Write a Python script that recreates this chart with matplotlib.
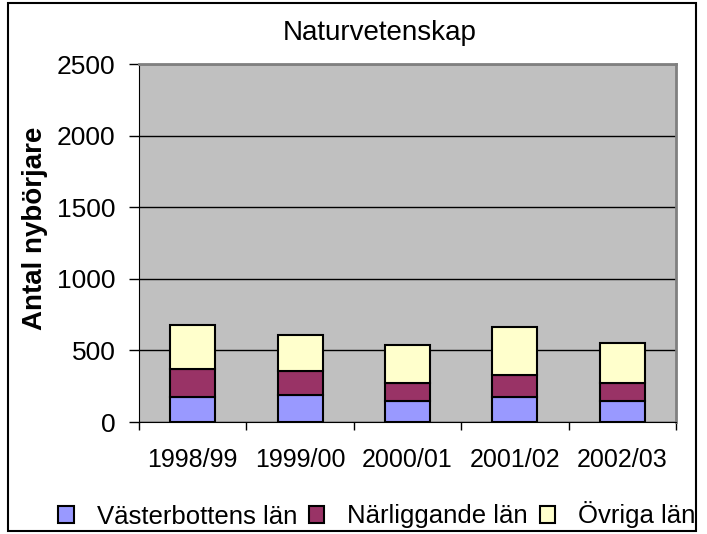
import numpy as np
import matplotlib.pyplot as plt
from matplotlib.patches import Rectangle

years = ['1998/99', '1999/00', '2000/01', '2001/02', '2002/03']
vasterbotten = [174, 188, 148, 174, 148]
narliggande = [194, 171, 125, 155, 125]
ovriga = [310, 250, 267, 336, 278]

plt.rcParams['font.family'] = ['Liberation Sans', 'DejaVu Sans']

fig = plt.figure(figsize=(7.07, 5.34), dpi=100)
ax = fig.add_axes([139 / 707, 1 - 422 / 534, (676 - 139) / 707, (422 - 64) / 534])

x = np.arange(len(years))
w = 0.42
b1 = np.array(vasterbotten)
b2 = b1 + np.array(narliggande)
ax.bar(x, vasterbotten, w, color='#9999FF', edgecolor='black', linewidth=1.5,
       label='Västerbottens län', zorder=3)
ax.bar(x, narliggande, w, bottom=b1, color='#993366', edgecolor='black', linewidth=1.5,
       label='Närliggande län', zorder=3)
ax.bar(x, ovriga, w, bottom=b2, color='#FFFFCC', edgecolor='black', linewidth=1.5,
       label='Övriga län', zorder=3)

ax.set_facecolor('#C0C0C0')
ax.set_xlim(-0.5, len(years) - 0.5)
ax.set_ylim(0, 2500)
ax.set_yticks(range(0, 2501, 500))
ax.yaxis.grid(True, color='black', linewidth=1)
ax.set_axisbelow(True)

# category ticks at boundaries, labels in the middle
ax.set_xticks(np.arange(-0.5, len(years)), minor=False)
ax.set_xticklabels([])
ax.set_xticks(x, minor=True)
ax.set_xticklabels(years, minor=True, fontsize=18)
ax.tick_params(axis='x', which='minor', length=0, pad=19)
ax.tick_params(axis='x', which='major', length=6, width=1, direction='out')
ax.tick_params(axis='y', labelsize=19, length=7, width=1, pad=10)

for s in ['top', 'right']:
    ax.spines[s].set_color('#808080')
    ax.spines[s].set_linewidth(2)
ax.spines['left'].set_color('black')
ax.spines['bottom'].set_color('black')

fig.text(380 / 707, 1 - 33 / 534, 'Naturvetenskap', fontsize=20, ha='center', va='center')
fig.text(35 / 707, 1 - 228 / 534, 'Antal nybörjare', fontsize=20, fontweight='bold',
         rotation=90, ha='center', va='center')

fig.legend(loc='center', bbox_to_anchor=(377 / 707, 1 - 515 / 534), ncol=3, frameon=False,
           fontsize=18.5, handlelength=0.6, handleheight=0.6, handletextpad=0.9,
           columnspacing=0.45, borderpad=0)

fig.patches.append(Rectangle((8 / 707, 1 - 531 / 534), 688 / 707, 528 / 534,
                             transform=fig.transFigure, fill=False, edgecolor='black',
                             linewidth=1.5))

fig.savefig('out.png', dpi=100)
